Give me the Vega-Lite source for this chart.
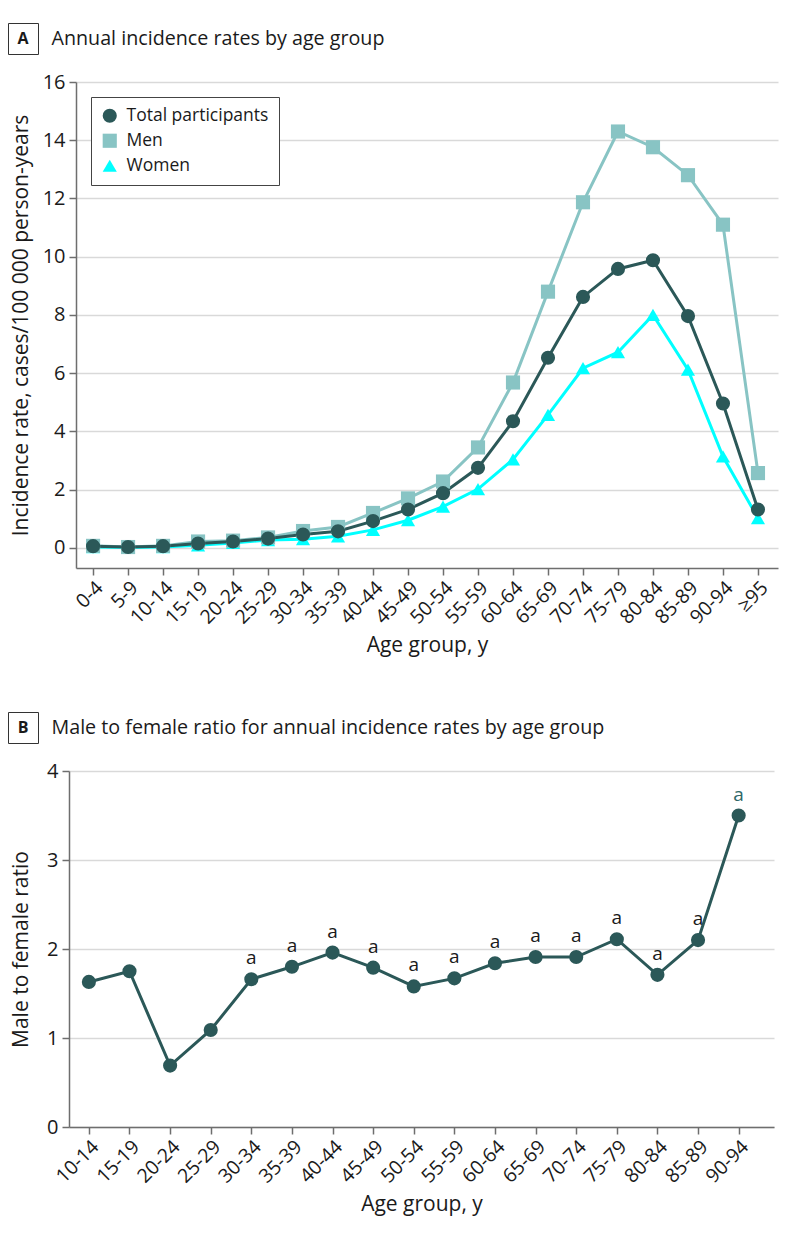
{
  "$schema": "https://vega.github.io/schema/vega-lite/v6.json",
  "background": "white",
  "padding": {"left": 7, "top": 22, "right": 5, "bottom": 5},
  "config": {
    "font": "Open Sans",
    "view": {"stroke": null},
    "axis": {
      "domainColor": "#6e6e6e", "domainWidth": 1.5,
      "tickColor": "#6e6e6e", "tickWidth": 1.5, "tickSize": 7,
      "labelColor": "#1a1a1a", "labelFontSize": 20, "labelFont": "Open Sans", "labelPadding": 4,
      "titleColor": "#1a1a1a", "titleFontSize": 21, "titleFontWeight": "normal", "titleFont": "Open Sans"
    },
    "axisY": {"grid": true, "gridColor": "#d9d9d9", "gridWidth": 1.5},
    "axisX": {"grid": false, "labelAngle": -45, "labelPadding": 3, "labelFontSize": 19.5, "titlePadding": 7}
  },
  "spacing": 55,
  "resolve": {"scale": {"color": "independent", "shape": "independent"}, "legend": {"color": "independent", "shape": "independent"}},
  "vconcat": [
    {
      "spacing": 17,
      "resolve": {"scale": {"color": "independent", "shape": "independent"}, "legend": {"color": "independent", "shape": "independent"}},
      "vconcat": [
        {
          "spacing": 12,
          "hconcat": [
            {
              "width": 30, "height": 31,
              "view": {"stroke": "#333333", "strokeWidth": 1},
              "data": {"values": [{"panel": "A"}]},
              "mark": {"type": "text", "fontSize": 16, "fontWeight": "bold", "align": "center", "baseline": "middle", "color": "#1a1a1a"},
              "encoding": {"text": {"field": "panel"}}
            },
            {
              "width": 1, "height": 31,
              "data": {"values": [{"t": "Annual incidence rates by age group"}]},
              "mark": {"type": "text", "fontSize": 19.7, "align": "left", "baseline": "middle", "color": "#1a1a1a"},
              "encoding": {"text": {"field": "t"}}
            }
          ]
        },
        {
          "spacing": 1,
          "resolve": {"scale": {"color": "independent", "shape": "independent"}, "legend": {"color": "independent", "shape": "independent"}},
          "hconcat": [
            {"width": 1, "height": 1, "data": {"values": []}, "mark": {"type": "point", "opacity": 0}},
            {
              "width": 702, "height": 486,
              "data": {"values": [
                {"age": "0-4", "group": "Women", "rate": 0.03},
                {"age": "5-9", "group": "Women", "rate": 0.01},
                {"age": "10-14", "group": "Women", "rate": 0.03},
                {"age": "15-19", "group": "Women", "rate": 0.09},
                {"age": "20-24", "group": "Women", "rate": 0.17},
                {"age": "25-29", "group": "Women", "rate": 0.27},
                {"age": "30-34", "group": "Women", "rate": 0.30},
                {"age": "35-39", "group": "Women", "rate": 0.40},
                {"age": "40-44", "group": "Women", "rate": 0.62},
                {"age": "45-49", "group": "Women", "rate": 0.95},
                {"age": "50-54", "group": "Women", "rate": 1.42},
                {"age": "55-59", "group": "Women", "rate": 2.02},
                {"age": "60-64", "group": "Women", "rate": 3.04},
                {"age": "65-69", "group": "Women", "rate": 4.57},
                {"age": "70-74", "group": "Women", "rate": 6.17},
                {"age": "75-79", "group": "Women", "rate": 6.72},
                {"age": "80-84", "group": "Women", "rate": 8.0},
                {"age": "85-89", "group": "Women", "rate": 6.12},
                {"age": "90-94", "group": "Women", "rate": 3.14},
                {"age": "≥95", "group": "Women", "rate": 1.02},
                {"age": "0-4", "group": "Men", "rate": 0.07},
                {"age": "5-9", "group": "Men", "rate": 0.03},
                {"age": "10-14", "group": "Men", "rate": 0.07},
                {"age": "15-19", "group": "Men", "rate": 0.22},
                {"age": "20-24", "group": "Men", "rate": 0.25},
                {"age": "25-29", "group": "Men", "rate": 0.36},
                {"age": "30-34", "group": "Men", "rate": 0.58},
                {"age": "35-39", "group": "Men", "rate": 0.72},
                {"age": "40-44", "group": "Men", "rate": 1.2},
                {"age": "45-49", "group": "Men", "rate": 1.7},
                {"age": "50-54", "group": "Men", "rate": 2.28},
                {"age": "55-59", "group": "Men", "rate": 3.45},
                {"age": "60-64", "group": "Men", "rate": 5.68},
                {"age": "65-69", "group": "Men", "rate": 8.8},
                {"age": "70-74", "group": "Men", "rate": 11.87},
                {"age": "75-79", "group": "Men", "rate": 14.3},
                {"age": "80-84", "group": "Men", "rate": 13.76},
                {"age": "85-89", "group": "Men", "rate": 12.8},
                {"age": "90-94", "group": "Men", "rate": 11.1},
                {"age": "≥95", "group": "Men", "rate": 2.57},
                {"age": "0-4", "group": "Total participants", "rate": 0.06},
                {"age": "5-9", "group": "Total participants", "rate": 0.03},
                {"age": "10-14", "group": "Total participants", "rate": 0.06},
                {"age": "15-19", "group": "Total participants", "rate": 0.15},
                {"age": "20-24", "group": "Total participants", "rate": 0.22},
                {"age": "25-29", "group": "Total participants", "rate": 0.32},
                {"age": "30-34", "group": "Total participants", "rate": 0.46},
                {"age": "35-39", "group": "Total participants", "rate": 0.57},
                {"age": "40-44", "group": "Total participants", "rate": 0.92},
                {"age": "45-49", "group": "Total participants", "rate": 1.32},
                {"age": "50-54", "group": "Total participants", "rate": 1.88},
                {"age": "55-59", "group": "Total participants", "rate": 2.75},
                {"age": "60-64", "group": "Total participants", "rate": 4.35},
                {"age": "65-69", "group": "Total participants", "rate": 6.53},
                {"age": "70-74", "group": "Total participants", "rate": 8.62},
                {"age": "75-79", "group": "Total participants", "rate": 9.58},
                {"age": "80-84", "group": "Total participants", "rate": 9.88},
                {"age": "85-89", "group": "Total participants", "rate": 7.96},
                {"age": "90-94", "group": "Total participants", "rate": 4.96},
                {"age": "≥95", "group": "Total participants", "rate": 1.32}
              ]},
              "encoding": {
                "x": {"field": "age", "type": "ordinal", "sort": null,
                      "scale": {"type": "point", "padding": 0.53, "align": 0.46},
                      "axis": {"title": "Age group, y"}},
                "y": {"field": "rate", "type": "quantitative",
                      "scale": {"domain": [-0.69, 16], "nice": false, "zero": false},
                      "axis": {"values": [0, 2, 4, 6, 8, 10, 12, 14, 16], "title": "Incidence rate, cases/100 000 person-years", "titlePadding": 11}},
                "color": {"field": "group", "type": "nominal",
                          "scale": {"domain": ["Total participants", "Men", "Women"], "range": ["#2b5858", "#88c4c4", "#00ffff"]},
                          "legend": {"title": null, "orient": "top-left", "offset": 15, "strokeColor": "#444444", "fillColor": "white", "padding": 10, "labelFontSize": 17.5, "labelColor": "#1a1a1a", "symbolSize": 200, "rowPadding": 6, "labelOffset": 8, "symbolStrokeWidth": 0, "symbolOpacity": 1}}
              },
              "layer": [
                {
                  "mark": {"type": "line", "strokeWidth": 3}
                },
                {
                  "mark": {"type": "point", "filled": true, "opacity": 1, "size": 200},
                  "encoding": {
                    "shape": {"field": "group", "type": "nominal",
                              "scale": {"domain": ["Total participants", "Men", "Women"], "range": ["circle", "square", "triangle-up"]},
                              "legend": {"title": null, "orient": "top-left", "offset": 15, "strokeColor": "#444444", "fillColor": "white", "padding": 10, "labelFontSize": 17.5, "labelColor": "#1a1a1a", "symbolSize": 200, "rowPadding": 6, "labelOffset": 8, "symbolStrokeWidth": 0, "symbolOpacity": 1}}
                  }
                }
              ]
            }
          ]
        }
      ]
    },
    {
      "spacing": 17,
      "vconcat": [
        {
          "spacing": 12,
          "hconcat": [
            {
              "width": 30, "height": 31,
              "view": {"stroke": "#333333", "strokeWidth": 1},
              "data": {"values": [{"panel": "B"}]},
              "mark": {"type": "text", "fontSize": 16, "fontWeight": "bold", "align": "center", "baseline": "middle", "color": "#1a1a1a"},
              "encoding": {"text": {"field": "panel"}}
            },
            {
              "width": 1, "height": 31,
              "data": {"values": [{"t": "Male to female ratio for annual incidence rates by age group"}]},
              "mark": {"type": "text", "fontSize": 19.7, "align": "left", "baseline": "middle", "color": "#1a1a1a"},
              "encoding": {"text": {"field": "t"}}
            }
          ]
        },
        {
          "spacing": 1,
          "hconcat": [
            {"width": 1, "height": 1, "data": {"values": []}, "mark": {"type": "point", "opacity": 0}},
            {
              "width": 705, "height": 356,
              "data": {"values": [
                {"age": "10-14", "ratio": 1.63, "sig": ""},
                {"age": "15-19", "ratio": 1.75, "sig": ""},
                {"age": "20-24", "ratio": 0.69, "sig": ""},
                {"age": "25-29", "ratio": 1.09, "sig": ""},
                {"age": "30-34", "ratio": 1.66, "sig": "a"},
                {"age": "35-39", "ratio": 1.80, "sig": "a"},
                {"age": "40-44", "ratio": 1.96, "sig": "a"},
                {"age": "45-49", "ratio": 1.79, "sig": "a"},
                {"age": "50-54", "ratio": 1.58, "sig": "a"},
                {"age": "55-59", "ratio": 1.67, "sig": "a"},
                {"age": "60-64", "ratio": 1.84, "sig": "a"},
                {"age": "65-69", "ratio": 1.91, "sig": "a"},
                {"age": "70-74", "ratio": 1.91, "sig": "a"},
                {"age": "75-79", "ratio": 2.11, "sig": "a"},
                {"age": "80-84", "ratio": 1.71, "sig": "a"},
                {"age": "85-89", "ratio": 2.10, "sig": "a"},
                {"age": "90-94", "ratio": 3.50, "sig": "a"}
              ]},
              "encoding": {
                "x": {"field": "age", "type": "ordinal", "sort": null,
                      "scale": {"type": "point", "padding": 0.68, "align": 0.36},
                      "axis": {"title": "Age group, y"}},
                "y": {"field": "ratio", "type": "quantitative",
                      "scale": {"domain": [0, 4], "nice": false},
                      "axis": {"values": [0, 1, 2, 3, 4], "title": "Male to female ratio", "titlePadding": 15}}
              },
              "layer": [
                {"mark": {"type": "line", "strokeWidth": 3, "color": "#2b5858"}},
                {"mark": {"type": "point", "filled": true, "opacity": 1, "size": 200, "color": "#2b5858"}},
                {
                  "mark": {"type": "text", "fontSize": 19, "dy": -21, "baseline": "middle"},
                  "encoding": {
                    "text": {"field": "sig"},
                    "color": {"condition": {"test": "datum.age === '90-94'", "value": "#2f6868"}, "value": "#1a1a1a"}
                  }
                }
              ]
            }
          ]
        }
      ]
    }
  ]
}
